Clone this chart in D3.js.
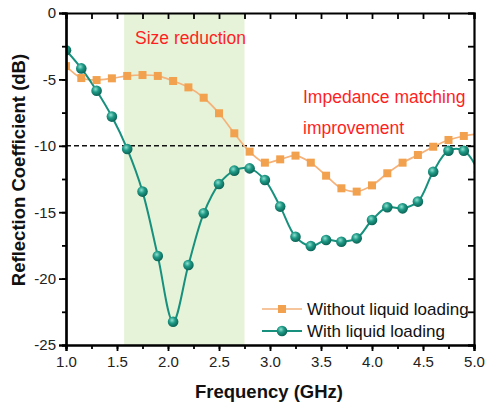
<!DOCTYPE html>
<html>
<head>
<meta charset="utf-8">
<script src="https://cdn.jsdelivr.net/npm/d3@7"></script>
<style>
  html, body { margin: 0; padding: 0; background: #fff; }
  svg { display: block; font-family: "Liberation Sans", Arial, sans-serif; }
</style>
</head>
<body>
<div id="chart"></div>
<script>
// ---- Data ----
const freq = [1.00, 1.15, 1.30, 1.45, 1.60, 1.75, 1.90, 2.05, 2.20, 2.35, 2.50, 2.65, 2.80,
              2.95, 3.10, 3.25, 3.40, 3.55, 3.70, 3.85, 4.00, 4.15, 4.30, 4.45, 4.60, 4.75, 4.90, 5.05];
const withoutLiquid = [-4.0, -4.9, -5.05, -4.92, -4.74, -4.67, -4.74, -5.12, -5.6, -6.38, -7.55, -9.06, -10.44,
              -11.27, -11.02, -10.74, -11.27, -12.25, -13.2, -13.45, -12.98, -12.07, -11.27, -10.69, -10.07, -9.56, -9.26, -9.1];
const withLiquid = [-2.8, -4.17, -5.85, -7.8, -10.24, -13.45, -18.3, -23.25, -18.98, -15.08, -12.88, -11.87, -11.7,
              -12.58, -14.58, -16.85, -17.55, -17.09, -17.22, -16.97, -15.59, -14.63, -14.71, -14.2, -11.95, -10.37, -10.37, -12.0];
const xTicks = [1.0, 1.5, 2.0, 2.5, 3.0, 3.5, 4.0, 4.5, 5.0];
const yTicks = [0, -5, -10, -15, -20, -25];
const shadeRange = [1.57, 2.75];
const thresholdDb = -10;
const seriesNames = ["Without liquid loading", "With liquid loading"];
const annotations = ["Size reduction", "Impedance matching", "improvement"];

// ---- Layout ----
const W = 485, H = 404;
const m = { left: 66, top: 13, right: 11, bottom: 59 };
const iw = W - m.left - m.right, ih = H - m.top - m.bottom;

const svg = d3.select("#chart").append("svg").attr("width", W).attr("height", H);
const defs = svg.append("defs");
defs.append("clipPath").attr("id", "clip").append("rect")
  .attr("x", 0).attr("y", 0).attr("width", iw).attr("height", ih);
const grad = defs.append("radialGradient").attr("id", "sphere")
  .attr("cx", "40%").attr("cy", "35%").attr("r", "65%");
grad.append("stop").attr("offset", "0%").attr("stop-color", "#8fe0d0");
grad.append("stop").attr("offset", "45%").attr("stop-color", "#1f9a86");
grad.append("stop").attr("offset", "100%").attr("stop-color", "#0b6456");

const g = svg.append("g").attr("transform", `translate(${m.left},${m.top})`);
const x = d3.scaleLinear().domain([1, 5]).range([0, iw]);
const y = d3.scaleLinear().domain([-25, 0]).range([ih, 0]);

// shaded region
g.append("rect")
  .attr("x", x(shadeRange[0])).attr("y", 0)
  .attr("width", x(shadeRange[1]) - x(shadeRange[0])).attr("height", ih)
  .attr("fill", "#e6f3d8");

// threshold dashed line
g.append("line")
  .attr("x1", 0).attr("x2", iw).attr("y1", y(thresholdDb)).attr("y2", y(thresholdDb))
  .attr("stroke", "#111").attr("stroke-width", 1.4).attr("stroke-dasharray", "5,3");

// ---- Series ----
const plot = g.append("g").attr("clip-path", "url(#clip)");
const orange = "#f2a24e", orangeLine = "#f5b27a", teal = "#17907d";
const line = d3.line().x(d => x(d[0])).y(d => y(d[1])).curve(d3.curveCatmullRom.alpha(0.5));
const d1 = freq.map((f, i) => [f, withoutLiquid[i]]);
const d2 = freq.map((f, i) => [f, withLiquid[i]]);

plot.append("path").datum(d1).attr("d", line).attr("fill", "none")
  .attr("stroke", orangeLine).attr("stroke-width", 1.7);
plot.append("path").datum(d2).attr("d", line).attr("fill", "none")
  .attr("stroke", teal).attr("stroke-width", 2);

plot.selectAll("rect.sq").data(d1).join("rect").attr("class", "sq")
  .attr("x", d => x(d[0]) - 4).attr("y", d => y(d[1]) - 4)
  .attr("width", 8).attr("height", 8).attr("fill", orange);
plot.selectAll("circle.ball").data(d2).join("circle").attr("class", "ball")
  .attr("cx", d => x(d[0])).attr("cy", d => y(d[1])).attr("r", 5.3)
  .attr("fill", "url(#sphere)");

// ---- Axes ----
const fmtX = d3.format(".1f");
const xMinor = d3.range(1, 5.001, 0.25);
const yMinor = d3.range(-25, 0.001, 2.5);

const axB = g.append("g").attr("transform", `translate(0,${ih})`)
  .call(d3.axisBottom(x).tickValues(xMinor).tickSize(4).tickFormat(""));
axB.append("g").call(d3.axisBottom(x).tickValues(xTicks).tickSize(6).tickPadding(5).tickFormat(fmtX));
const axL = g.append("g")
  .call(d3.axisLeft(y).tickValues(yMinor).tickSize(4).tickFormat(""));
axL.append("g").call(d3.axisLeft(y).tickValues(yTicks).tickSize(7).tickPadding(3).tickFormat(d => d));
g.append("g").call(d3.axisTop(x).tickValues(xMinor).tickSize(-6).tickFormat(""));
g.append("g").attr("transform", `translate(${iw},0)`)
  .call(d3.axisRight(y).tickValues(yMinor).tickSize(-6).tickFormat(""));

g.selectAll(".domain").attr("stroke", "#000").attr("stroke-width", 2.2);
g.selectAll(".tick line").attr("stroke", "#000").attr("stroke-width", 1.8);
g.selectAll(".tick text").attr("fill", "#222").style("font-size", "15px")
  .style("font-family", "'Liberation Sans', Arial, sans-serif");

// axis titles
svg.append("text").attr("x", 269).attr("y", 398).attr("text-anchor", "middle")
  .style("font-size", "18.5px").style("font-weight", "bold").attr("fill", "#111")
  .text("Frequency (GHz)");
svg.append("text").attr("transform", `translate(25,170) rotate(-90)`)
  .attr("text-anchor", "middle")
  .style("font-size", "18.5px").style("font-weight", "bold").attr("fill", "#111")
  .text("Reflection Coefficient (dB)");

// annotations
const red = "#ff1f1f";
svg.append("text").attr("x", 135).attr("y", 44).attr("fill", red)
  .style("font-size", "17.5px").text(annotations[0]);
svg.append("text").attr("x", 303).attr("y", 103).attr("fill", red)
  .style("font-size", "17.5px").text(annotations[1]);
svg.append("text").attr("x", 303).attr("y", 134).attr("fill", red)
  .style("font-size", "17.5px").text(annotations[2]);

// legend
const lg = svg.append("g");
const legY = [309, 331];
lg.append("line").attr("x1", 262).attr("x2", 302).attr("y1", legY[0]).attr("y2", legY[0])
  .attr("stroke", orangeLine).attr("stroke-width", 1.7);
lg.append("rect").attr("x", 278).attr("y", legY[0] - 4).attr("width", 8).attr("height", 8).attr("fill", orange);
lg.append("line").attr("x1", 262).attr("x2", 302).attr("y1", legY[1]).attr("y2", legY[1])
  .attr("stroke", teal).attr("stroke-width", 2);
lg.append("circle").attr("cx", 282).attr("cy", legY[1]).attr("r", 5.3).attr("fill", "url(#sphere)");
seriesNames.forEach((s, i) => {
  lg.append("text").attr("x", 307).attr("y", legY[i] + 6).attr("fill", "#111")
    .style("font-size", "17px").text(s);
});
</script>
</body>
</html>
